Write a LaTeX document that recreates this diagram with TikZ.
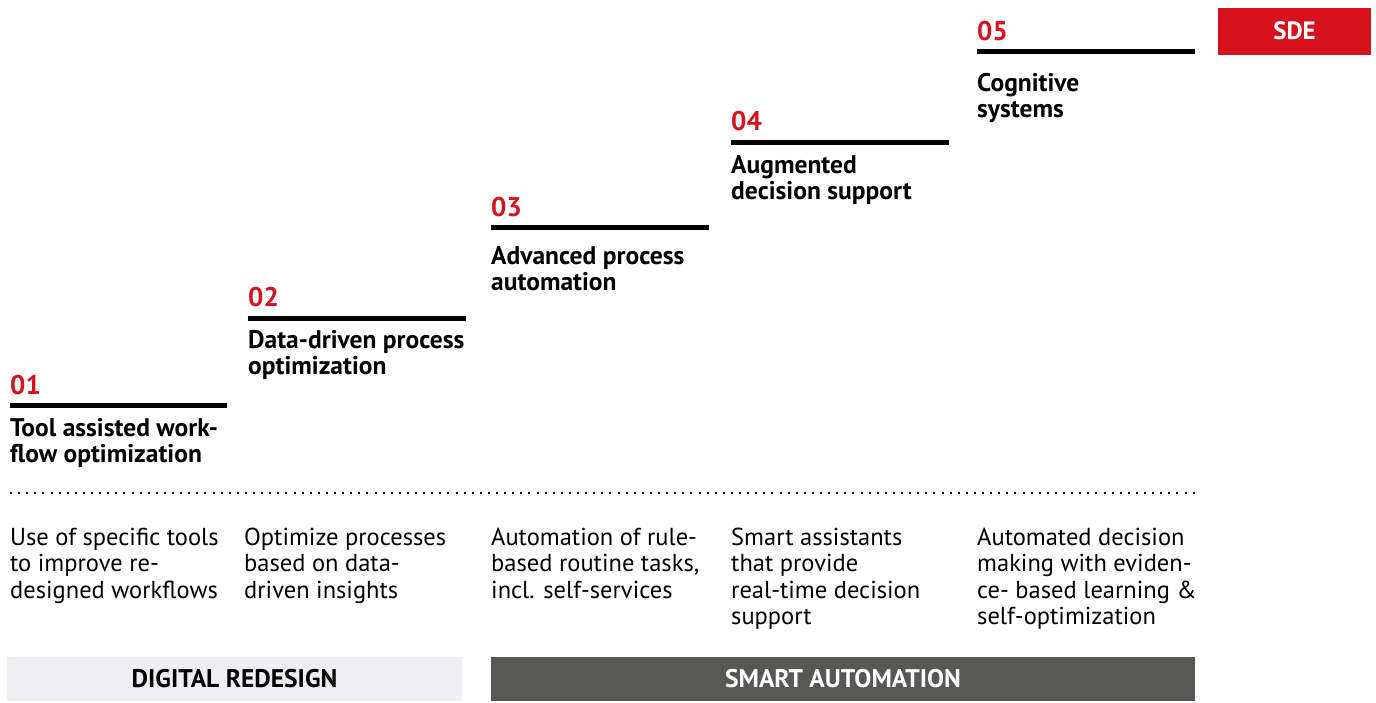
\documentclass[tikz,border=0pt]{standalone}
\usepackage{fontspec}
\setmainfont{PT Sans}
\definecolor{pred}{HTML}{D5121E}
\definecolor{lightbox}{HTML}{EFEFF3}
\definecolor{darkbox}{HTML}{575756}
\tikzset{
  numlbl/.style={anchor=base west, inner sep=0pt, text=pred, font=\fontsize{27}{28}\selectfont\bfseries},
  titlelbl/.style={anchor=base west, inner sep=0pt, align=left, font=\fontsize{25.5}{26}\selectfont\bfseries},
  desclbl/.style={anchor=base west, inner sep=0pt, align=left, font=\fontsize{24.5}{26.5}\selectfont},
  stepbar/.style={line width=5pt},
  phasebox/.style={inner sep=0pt, minimum height=44pt, font=\fontsize{25.5}{26}\selectfont\bfseries}
}
\begin{document}
\begin{tikzpicture}[x=1pt,y=-1pt]
\useasboundingbox (0,0) rectangle (1376,702);
% bars
\draw[stepbar] (10,405.5) -- (227,405.5);
\draw[stepbar] (248,318) -- (466,318);
\draw[stepbar] (491,227.5) -- (709,227.5);
\draw[stepbar] (731,142) -- (949,142);
\draw[stepbar] (977,51.5) -- (1195,51.5);
% numbers
\node[numlbl] (n1) at (10,394) {01};
\node[numlbl] (n2) at (248,306.5) {02};
\node[numlbl] (n3) at (491,216.5) {03};
\node[numlbl] (n4) at (731,130.5) {04};
\node[numlbl] (n5) at (977,40) {05};
% titles (anchored at the baseline of the last line)
\node[titlelbl] (t1) at (10,462) {Tool assisted work-\\flow optimization};
\node[titlelbl] (t2) at (248,374.5) {Data-driven process\\optimization};
\node[titlelbl] (t3) at (491,290.5) {Advanced process\\automation};
\node[titlelbl] (t4) at (731,199.5) {Augmented\\decision support};
\node[titlelbl] (t5) at (977,117) {Cognitive\\systems};
% SDE
\node[fill=pred, text=white, minimum width=153pt, minimum height=47pt, inner sep=0pt, font=\fontsize{25}{26}\selectfont\bfseries] (sde) at (1294.5,31) {SDE};
% dotted line
\draw[line width=2pt, dash pattern=on 2pt off 6.1pt] (10,493) -- (1196,493);
% descriptions (anchored at the baseline of the last line)
\node[desclbl] (d1) at (10,598) {Use of specific tools\\to improve re-\\designed workflows};
\node[desclbl] (d2) at (244,598) {Optimize processes\\based on data-\\driven insights};
\node[desclbl] (d3) at (491,598) {Automation of rule-\\based routine tasks,\\incl. self-services};
\node[desclbl] (d4) at (731,624.5) {Smart assistants\\that provide\\real-time decision\\support};
\node[desclbl] (d5) at (977,624.5) {Automated decision\\making with eviden-\\ce- based learning \&\\self-optimization};
% phase boxes
\node[phasebox, fill=lightbox, minimum width=455pt] (p1) at (234.5,679) {DIGITAL REDESIGN};
\node[phasebox, fill=darkbox, text=white, minimum width=704pt] (p2) at (843,679) {SMART AUTOMATION};
\end{tikzpicture}
\end{document}
